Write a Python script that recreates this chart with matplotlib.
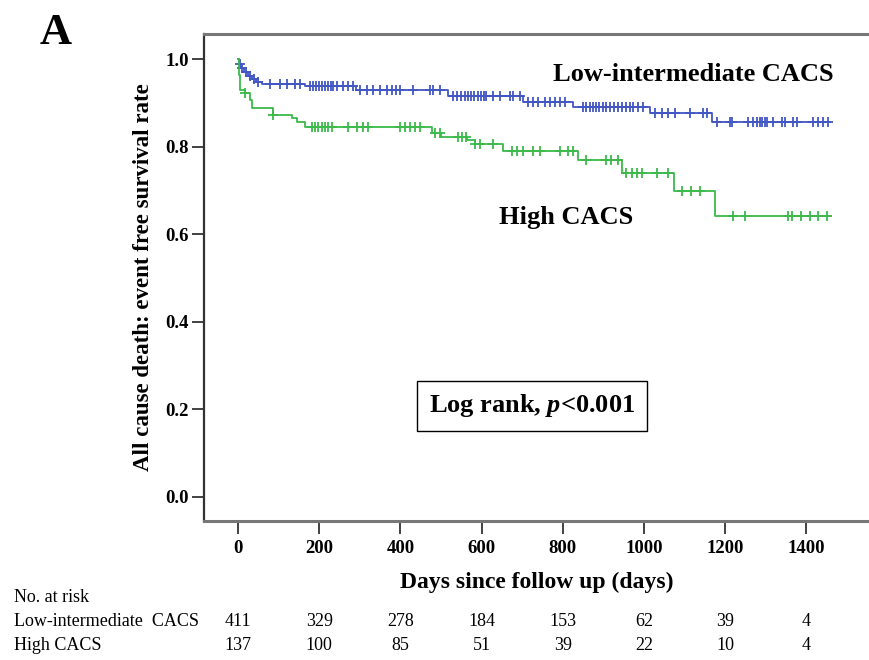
import numpy as np
import matplotlib
matplotlib.use('Agg')
import matplotlib.pyplot as plt
import matplotlib.transforms as mtransforms

# Kaplan-Meier step points (days, survival)
low_t = [0, 3, 8, 15, 25, 35, 45, 60, 165, 290, 517, 702, 825, 1015, 1167, 1458]
low_s = [1.0, 0.99, 0.98, 0.97, 0.962, 0.955, 0.948, 0.943, 0.938, 0.930, 0.916, 0.902,
         0.892, 0.877, 0.856, 0.856]
low_cens = [5, 10, 20, 30, 40, 50, 79, 103, 120, 140, 153, 177, 185, 192, 200, 207, 214,
            221, 228, 235, 243, 259, 272, 283, 300, 317, 333, 350, 366, 378, 390, 399,
            432, 473, 481, 497, 530, 540, 550, 558, 566, 574, 582, 590, 598, 605, 612,
            629, 645, 670, 678, 695, 714, 727, 739, 756, 768, 781, 793, 805, 850, 858,
            866, 874, 882, 890, 898, 906, 916, 925, 935, 945, 955, 965, 973, 986, 998,
            1027, 1044, 1059, 1076, 1113, 1145, 1155, 1180, 1212, 1217, 1256, 1268, 1278,
            1285, 1292, 1298, 1303, 1318, 1340, 1347, 1367, 1377, 1416, 1429, 1441, 1453]

high_t = [0, 2, 4, 17, 30, 34, 86, 132, 145, 165, 478, 500, 565, 584, 653, 837, 945,
          1074, 1175, 1458]
high_s = [1.0, 0.965, 0.93, 0.922, 0.907, 0.888, 0.873, 0.866, 0.858, 0.845, 0.832,
          0.823, 0.815, 0.806, 0.791, 0.769, 0.741, 0.699, 0.641, 0.641]
high_cens = [17, 87, 181, 190, 198, 206, 214, 222, 231, 272, 292, 308, 321, 399, 411,
             424, 436, 448, 485, 497, 542, 552, 562, 584, 596, 629, 674, 686, 702, 727,
             744, 793, 813, 825, 858, 907, 920, 937, 957, 970, 982, 994, 1031, 1060,
             1093, 1117, 1138, 1220, 1249, 1356, 1364, 1388, 1409, 1429, 1450]

risk_days = [0, 200, 400, 600, 800, 1000, 1200, 1400]
risk_low = [411, 329, 278, 184, 153, 62, 39, 4]
risk_high = [137, 100, 85, 51, 39, 22, 10, 4]

blue = '#4257c4'
green = '#3cba4a'

plt.rcParams['font.family'] = 'Liberation Serif'
plt.rcParams['mathtext.fontset'] = 'custom'
plt.rcParams['mathtext.rm'] = 'Liberation Serif:bold'
plt.rcParams['mathtext.it'] = 'Liberation Serif:italic:bold'


def surv_at(times, surv, x):
    idx = np.searchsorted(times, x, side='right') - 1
    return np.array(surv)[idx]


fig = plt.figure(figsize=(8.7, 6.6), dpi=100)
ax = fig.add_axes([0.2345, 0.2106, 0.7655, 0.7379])

for t, s, cens, col in [(low_t, low_s, low_cens, blue), (high_t, high_s, high_cens, green)]:
    ax.step(t, s, where='post', color=col, lw=1.3)
    ax.plot(cens, surv_at(t, s, cens), ls='none', marker='+', ms=7.5, mew=1.3, color=col)

ax.set_xlim(-84, 1557)
ax.set_ylim(-0.055, 1.058)
ax.set_xticks(risk_days)
ax.set_yticks([0.0, 0.2, 0.4, 0.6, 0.8, 1.0])
ax.set_yticklabels(['0.0', '0.2', '0.4', '0.6', '0.8', '1.0'])
ax.tick_params(axis='both', direction='out', length=9, width=1.3, color='#333333',
               labelsize=13.5, pad=2)
ax.tick_params(axis='x', pad=5)
for lab in ax.get_xticklabels() + ax.get_yticklabels():
    lab.set_fontweight('bold')

ax.spines['right'].set_visible(False)
ax.spines['top'].set_color('#777777')
ax.spines['top'].set_linewidth(2.2)
ax.spines['bottom'].set_color('#777777')
ax.spines['bottom'].set_linewidth(2.2)
ax.spines['left'].set_color('#333333')
ax.spines['left'].set_linewidth(1.6)

ax.set_xlabel('Days since follow up (days)', fontsize=17, fontweight='bold', labelpad=10)
ax.set_ylabel('All cause death: event free survival rate', fontsize=16.5,
              fontweight='bold', labelpad=8)

ax.text(776, 0.965, 'Low-intermediate CACS', fontsize=19, fontweight='bold',
        ha='left', va='center')
ax.text(643, 0.638, 'High CACS', fontsize=19, fontweight='bold', ha='left', va='center')
ax.text(724, 0.208, r'Log rank, $p$<0.001', fontsize=19, fontweight='bold',
        ha='center', va='center',
        bbox=dict(boxstyle='square,pad=0.45', fc='white', ec='black', lw=1.0))

fig.text(0.046, 0.95, 'A', fontsize=32, fontweight='bold', ha='left', va='center')

# number at risk table
trans = mtransforms.blended_transform_factory(ax.transData, fig.transFigure)
fig.text(0.016, 1 - 598 / 660, 'No. at risk', fontsize=13, va='center')
fig.text(0.016, 1 - 621 / 660, 'Low-intermediate  CACS', fontsize=13, va='center')
fig.text(0.016, 1 - 645 / 660, 'High CACS', fontsize=13, va='center')
for d, a, b in zip(risk_days, risk_low, risk_high):
    ax.text(d, 1 - 621 / 660, str(a), transform=trans, fontsize=13, ha='center',
            va='center', clip_on=False)
    ax.text(d, 1 - 645 / 660, str(b), transform=trans, fontsize=13, ha='center',
            va='center', clip_on=False)

fig.savefig('out.png', dpi=100)
